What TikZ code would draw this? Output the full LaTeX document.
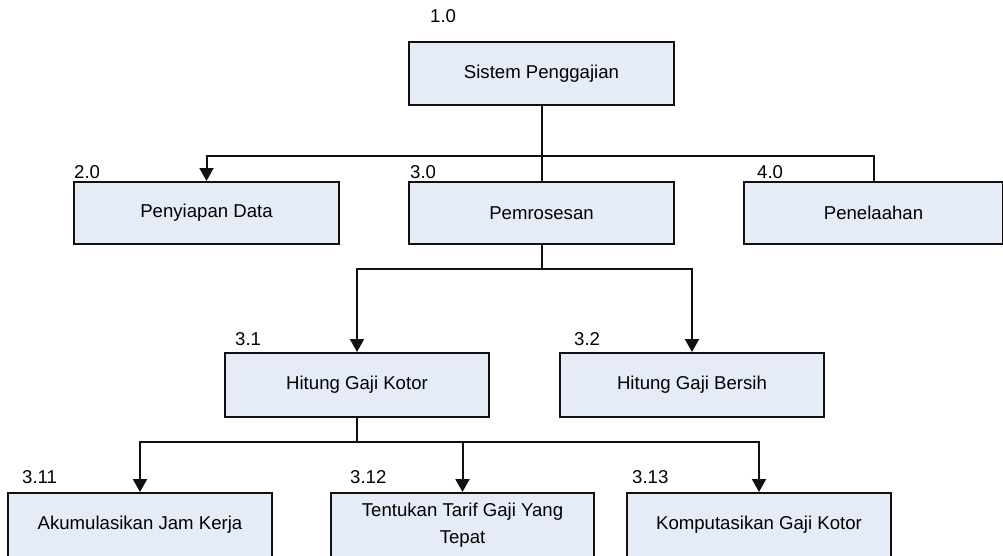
\documentclass[tikz,border=0pt]{standalone}
\usepackage{fontspec}
\setmainfont{Liberation Sans}
\usetikzlibrary{arrows.meta}
\definecolor{boxfill}{HTML}{E6ECF7}
\definecolor{edgecol}{HTML}{111111}
\tikzset{
  procbox/.style={draw=edgecol, fill=boxfill, line width=2pt, anchor=north west,
    inner sep=0pt, align=center, font=\fontsize{18.6}{27}\selectfont},
  numlabel/.style={anchor=west, inner sep=0pt, font=\fontsize{18.6}{22}\selectfont},
  link/.style={draw=edgecol, line width=2pt},
  arrowlink/.style={link, -{Triangle[width=14pt,length=13pt]}}
}
\begin{document}
\begin{tikzpicture}[x=1pt,y=-1pt]
  \useasboundingbox (0,0) rectangle (1003,555);
  \clip (0,0) rectangle (1003,555);

  % level 0
  \node[procbox, minimum width=265pt, minimum height=63pt] (sys) at (408,41) {Sistem Penggajian};
  \node[numlabel] (n10) at (430,16) {1.0};

  % level 1
  \node[procbox, minimum width=265pt, minimum height=62pt] (pen) at (73,181) {Penyiapan Data};
  \node[procbox, minimum width=265pt, minimum height=62pt] (pem) at (408,181) {Pemrosesan};
  \node[procbox, minimum width=259pt, minimum height=62pt] (pel) at (743,181) {Penelaahan};
  \node[numlabel] (n20) at (74,172) {2.0};
  \node[numlabel] (n30) at (410,172) {3.0};
  \node[numlabel] (n40) at (757,172) {4.0};

  % level 2
  \node[procbox, minimum width=264pt, minimum height=64pt] (hgk) at (224,352) {Hitung Gaji Kotor};
  \node[procbox, minimum width=264pt, minimum height=64pt] (hgb) at (559,352) {Hitung Gaji Bersih};
  \node[numlabel] (n31) at (235,339) {3.1};
  \node[numlabel] (n32) at (574,339) {3.2};

  % level 3
  \node[procbox, minimum width=264pt, minimum height=64pt] (akm) at (7,492) {Akumulasikan Jam Kerja};
  \node[procbox, minimum width=263pt, minimum height=64pt] (tar) at (330,492) {Tentukan Tarif Gaji Yang\\Tepat};
  \node[procbox, minimum width=264pt, minimum height=64pt] (kom) at (626,492) {Komputasikan Gaji Kotor};
  \node[numlabel] (n311) at (22,477) {3.11};
  \node[numlabel] (n312) at (350,477) {3.12};
  \node[numlabel] (n313) at (632,477) {3.13};

  % junction points of the tree
  \coordinate (j1) at (sys.south |- 0,156);
  \coordinate (j2) at (pem.south |- 0,269);
  \coordinate (j3) at (hgk.south |- 0,442);

  % connectors
  \draw[link] (sys.south) -- (pem.north);
  \draw[arrowlink] (j1) -| (pen.north);
  \draw[link] (j1) -| (pel.north);

  \draw[link] (pem.south) -- (j2);
  \draw[arrowlink] (j2) -| (hgk.north);
  \draw[arrowlink] (j2) -| (hgb.north);

  \draw[link] (hgk.south) -- (j3);
  \draw[arrowlink] (j3) -| (akm.north);
  \draw[arrowlink] (j3) -| (tar.north);
  \draw[arrowlink] (j3) -| (kom.north);
\end{tikzpicture}
\end{document}
